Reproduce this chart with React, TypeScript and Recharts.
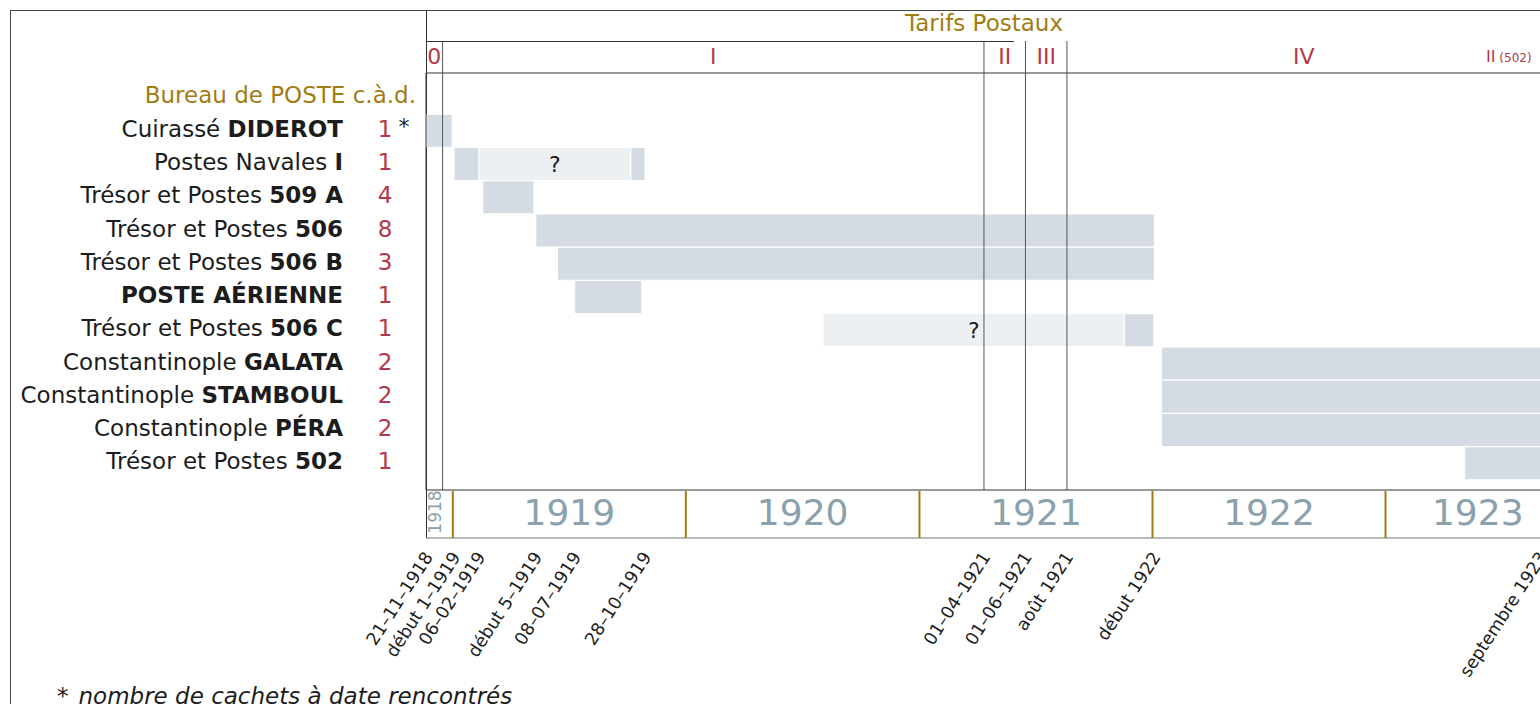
import React from "react";
import { BarChart, Bar, XAxis, YAxis, ReferenceLine, LabelList } from "recharts";

if (typeof document !== "undefined") {
  document.body.style.margin = "0";
  document.body.style.overflow = "hidden";
}

const FONT = '"DejaVu Sans", Verdana, sans-serif';
const GOLD = "#a27c12";
const RED = "#b3394a";
const INK = "#1c1c1c";
const ATTESTED = "#d4dbe2";
const UNCERTAIN = "#edf0f3";
const YEAR_GREY = "#8aa1ae";

const AXIS_START = "1918-11-20";
const AXIS_END = "1923-10-17";

const HEADER = "Bureau de POSTE c.à.d.";
const stationPrefix = [
  "Cuirassé ",
  "Postes Navales ",
  "Trésor et Postes ",
  "Trésor et Postes ",
  "Trésor et Postes ",
  "",
  "Trésor et Postes ",
  "Constantinople ",
  "Constantinople ",
  "Constantinople ",
  "Trésor et Postes ",
];
const stationName = [
  "DIDEROT",
  "I",
  "509 A",
  "506",
  "506 B",
  "POSTE AÉRIENNE",
  "506 C",
  "GALATA",
  "STAMBOUL",
  "PÉRA",
  "502",
];
const cachetCount = [1, 1, 4, 8, 3, 1, 1, 2, 2, 2, 1];
const countNote = ["*", "", "", "", "", "", "", "", "", "", ""];

// début, fin de la partie attestée, fin de la partie incertaine (?), fin
const useStart = [
  "1918-11-21", "1919-01-03", "1919-02-17", "1919-05-11", "1919-06-14", "1919-07-11",
  "1920-08-03", "1922-01-15", "1922-01-15", "1922-01-15", "1923-05-05",
];
const attestedEnd = [
  "1918-12-31", "1919-02-11", "1919-05-08", "1922-01-04", "1922-01-04", "1919-10-24",
  "1920-08-03", "1923-12-31", "1923-12-31", "1923-12-31", "1923-12-31",
];
const uncertainEnd = [
  "1918-12-31", "1919-10-07", "1919-05-08", "1922-01-04", "1922-01-04", "1919-10-24",
  "1921-11-18", "1923-12-31", "1923-12-31", "1923-12-31", "1923-12-31",
];
const useEnd = [
  "1918-12-31", "1919-10-29", "1919-05-08", "1922-01-04", "1922-01-04", "1919-10-24",
  "1922-01-03", "1923-12-31", "1923-12-31", "1923-12-31", "1923-12-31",
];

const tarifNames = ["0", "I", "II", "III", "IV"];
const tarifStarts = ["1918-11-20", "1918-12-16", "1921-04-12", "1921-06-16", "1921-08-20"];
const tarifsEnd = "1923-09-01";

const years = [1918, 1919, 1920, 1921, 1922, 1923];

const dateLabels = [
  "21–11–1918", "début 1–1919", "06–02–1919", "début 5–1919", "08–07–1919", "28–10–1919",
  "01–04–1921", "01–06–1921", "août 1921", "début 1922", "septembre 1923",
];
const dateTickAt = [
  "1918-11-21", "1919-01-03", "1919-02-11", "1919-05-11", "1919-07-11", "1919-10-29",
  "1921-04-12", "1921-06-16", "1921-08-20", "1922-01-04", "1923-09-01",
];

const dayOf = (iso: string) =>
  Math.round((Date.parse(iso) - Date.parse(AXIS_START)) / 86400000);
const SPAN = dayOf(AXIS_END);

const rows: any[] = [
  { station: HEADER },
  ...stationName.map((name, i) => ({
    station: stationPrefix[i] + name,
    offset: dayOf(useStart[i]),
    attested: dayOf(attestedEnd[i]) - dayOf(useStart[i]),
    uncertain: dayOf(uncertainEnd[i]) - dayOf(attestedEnd[i]),
    attestedLate: dayOf(useEnd[i]) - dayOf(uncertainEnd[i]),
    mark: dayOf(uncertainEnd[i]) > dayOf(attestedEnd[i]) ? "?" : "",
  })),
];
const stationIndex = new Map(rows.slice(1).map((r, i) => [r.station, i]));

// graduation des années
const yearTicks = new Map<number, { kind: string; text?: string; small?: boolean }>();
years.slice(1).forEach((y) => yearTicks.set(dayOf(`${y}-01-01`), { kind: "line" }));
years.forEach((y, i) => {
  const a = Math.max(0, dayOf(`${y}-01-01`));
  const b = Math.min(SPAN, dayOf(`${y + 1}-01-01`));
  yearTicks.set((a + b) / 2, { kind: "label", text: String(y), small: i === 0 });
});

// tarifs postaux
const tarifBounds = [...tarifStarts.map(dayOf), dayOf(tarifsEnd)];
const tarifTicks = new Map<number, { kind: string; text?: string }>();
tarifBounds.slice(1, tarifNames.length).forEach((v) => tarifTicks.set(v, { kind: "line" }));
tarifNames.forEach((t, i) =>
  tarifTicks.set((tarifBounds[i] + tarifBounds[i + 1]) / 2, { kind: "label", text: t })
);
tarifTicks.set(tarifBounds[tarifNames.length], { kind: "note" });

const dateTicks = new Map(dateTickAt.map((d, i) => [dayOf(d), dateLabels[i]]));

const renderStationTick = (props: any) => {
  const { x, y, payload } = props;
  if (payload.value === HEADER) {
    return (
      <text x={x - 10} y={y + 5} textAnchor="end" fontSize={23} fill={GOLD}>
        {HEADER}
      </text>
    );
  }
  const i = stationIndex.get(payload.value) as number;
  return (
    <g>
      <text x={x - 83} y={y + 6} textAnchor="end" fontSize={23} fill={INK}>
        {stationPrefix[i]}
        <tspan fontWeight="bold">{stationName[i]}</tspan>
      </text>
      <text x={x - 41} y={y + 6} textAnchor="middle" fontSize={23} fill={RED}>
        {cachetCount[i]}
      </text>
      {countNote[i] ? (
        <text x={x - 22} y={y + 3} textAnchor="middle" fontSize={22} fill={INK}>
          {countNote[i]}
        </text>
      ) : null}
    </g>
  );
};

const renderYearTick = (props: any) => {
  const { x, y, payload } = props;
  const info = yearTicks.get(payload.value);
  if (!info) return <g />;
  if (info.kind === "line") {
    return <line x1={x} x2={x} y1={y + 1} y2={y + 48} stroke={GOLD} strokeWidth={2} />;
  }
  if (info.small) {
    const cx = x + 2;
    const cy = y + 22;
    return (
      <text x={cx} y={cy} transform={`rotate(-90 ${cx} ${cy})`} textAnchor="middle" fontSize={17} fill={YEAR_GREY}>
        {info.text}
      </text>
    );
  }
  return (
    <text x={x} y={y + 35} textAnchor="middle" fontSize={36} fill={YEAR_GREY}>
      {info.text}
    </text>
  );
};

const renderTarifTick = (props: any) => {
  const { x, y, payload } = props;
  const info = tarifTicks.get(payload.value);
  if (!info) return <g />;
  if (info.kind === "line") {
    return <line x1={x} x2={x} y1={y} y2={y - 32} stroke="#555" strokeWidth={1} />;
  }
  if (info.kind === "note") {
    return (
      <text x={x - 9} y={y - 11} textAnchor="end" fill={RED}>
        <tspan fontSize={16}>II</tspan>
        <tspan fontSize={12} dx={4}>(502)</tspan>
      </text>
    );
  }
  return (
    <text x={x} y={y - 9} textAnchor="middle" fontSize={22} fill={RED}>
      {info.text}
    </text>
  );
};

const renderDateTick = (props: any) => {
  const { x, y, payload } = props;
  const ax = x + 7;
  const ay = y + 19;
  return (
    <text x={ax} y={ay} transform={`rotate(-57 ${ax} ${ay})`} textAnchor="end" fontSize={17.5} fill={INK}>
      {dateTicks.get(payload.value)}
    </text>
  );
};

const App: React.FC = () => {
  return (
    <div
      style={{
        position: "relative",
        width: 1540,
        height: 704,
        overflow: "hidden",
        background: "#fff",
        fontFamily: FONT,
      }}
    >
      <div
        style={{
          position: "absolute",
          left: 10,
          top: 10,
          width: 3000,
          height: 3000,
          borderTop: "1px solid #444",
          borderLeft: "1px solid #444",
        }}
      />
      <div style={{ position: "absolute", left: 426, top: 10, width: 1, height: 528, background: "#333" }} />
      <div style={{ position: "absolute", left: 426, top: 41, width: 588, height: 1, background: "#333" }} />
      <div
        style={{
          position: "absolute",
          left: 984,
          top: 10,
          transform: "translateX(-50%)",
          color: GOLD,
          fontSize: 23,
          lineHeight: "27px",
          whiteSpace: "nowrap",
        }}
      >
        Tarifs Postaux
      </div>
      <div style={{ position: "absolute", left: 0, top: 0 }}>
        <BarChart
          layout="vertical"
          width={1570}
          height={704}
          data={rows}
          barSize={33}
          margin={{ top: 41, right: 0, bottom: 0, left: 0 }}
        >
          <XAxis
            type="number"
            domain={[0, SPAN]}
            allowDataOverflow
            ticks={[...yearTicks.keys()]}
            interval={0}
            height={48}
            tickLine={false}
            tickSize={0}
            tickMargin={0}
            axisLine={{ stroke: "#333" }}
            tick={renderYearTick}
          />
          <XAxis
            xAxisId="dates"
            type="number"
            domain={[0, SPAN]}
            allowDataOverflow
            ticks={[...dateTicks.keys()]}
            interval={0}
            height={166}
            tickLine={false}
            tickSize={0}
            tickMargin={0}
            axisLine={{ stroke: "#777" }}
            tick={renderDateTick}
          />
          <XAxis
            xAxisId="tarifs"
            orientation="top"
            type="number"
            domain={[0, SPAN]}
            allowDataOverflow
            ticks={[...tarifTicks.keys()]}
            interval={0}
            height={32}
            tickLine={false}
            tickSize={0}
            tickMargin={0}
            axisLine={{ stroke: "#333" }}
            tick={renderTarifTick}
          />
          <YAxis
            type="category"
            dataKey="station"
            width={426}
            interval={0}
            tickLine={false}
            tickSize={0}
            tickMargin={0}
            padding={{ top: 8, bottom: 10 }}
            axisLine={{ stroke: "#333" }}
            tick={renderStationTick}
          />
          <Bar dataKey="offset" stackId="t" fill="transparent" isAnimationActive={false} />
          <Bar dataKey="attested" stackId="t" fill={ATTESTED} stroke="#fff" strokeWidth={1} isAnimationActive={false} />
          <Bar dataKey="uncertain" stackId="t" fill={UNCERTAIN} stroke="#fff" strokeWidth={1} isAnimationActive={false}>
            <LabelList dataKey="mark" position="center" fontSize={22} fill={INK} />
          </Bar>
          <Bar dataKey="attestedLate" stackId="t" fill={ATTESTED} stroke="#fff" strokeWidth={1} isAnimationActive={false} />
          {tarifBounds.slice(1, tarifNames.length).map((v) => (
            <ReferenceLine key={v} x={v} stroke="#555" strokeWidth={1} />
          ))}
        </BarChart>
      </div>
      <div
        style={{
          position: "absolute",
          left: 57,
          top: 683,
          fontSize: 23,
          lineHeight: "27px",
          color: INK,
          whiteSpace: "nowrap",
        }}
      >
        <span style={{ marginRight: 10 }}>*</span>
        <i>nombre de cachets à date rencontrés</i>
      </div>
    </div>
  );
};

export default App;
